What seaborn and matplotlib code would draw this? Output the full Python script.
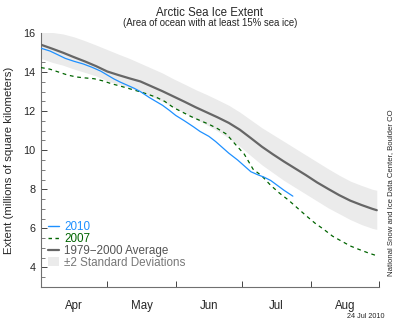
import numpy as np
import pandas as pd
import matplotlib
matplotlib.use("Agg")
import matplotlib.pyplot as plt
import seaborn as sns
from matplotlib.lines import Line2D
from matplotlib.patches import Patch
from matplotlib.ticker import MultipleLocator

# ---- data (day of year, extent in millions of km^2) ----
avg_days = [91, 96, 101, 106, 111, 116, 121, 126, 131, 136, 141, 146, 151, 156, 161, 166,
            171, 176, 181, 186, 191, 196, 201, 206, 211, 216, 221, 226, 231, 236, 241, 243]
avg_vals = [15.40, 15.20, 14.99, 14.76, 14.54, 14.30, 14.03, 13.85, 13.68, 13.52, 13.27, 13.02,
            12.75, 12.48, 12.20, 11.94, 11.68, 11.40, 11.05, 10.62, 10.18, 9.79, 9.42, 9.07,
            8.72, 8.35, 8.02, 7.70, 7.42, 7.20, 7.00, 6.93]
std_upper = [16.05, 16.03, 15.95, 15.80, 15.60, 15.38, 15.15, 14.92, 14.70, 14.45, 14.20, 13.95,
             13.65, 13.38, 13.10, 12.85, 12.58, 12.30, 11.95, 11.55, 11.15, 10.80, 10.45, 10.10,
             9.75, 9.40, 9.05, 8.72, 8.42, 8.20, 8.00, 7.95]
std_lower = [14.70, 14.50, 14.35, 14.15, 13.98, 13.80, 13.55, 13.38, 13.20, 13.00, 12.75, 12.50,
             12.20, 11.92, 11.60, 11.30, 10.98, 10.62, 10.20, 9.72, 9.25, 8.85, 8.45, 8.10,
             7.75, 7.40, 7.05, 6.75, 6.45, 6.20, 6.00, 5.95]

y2010_days = [91, 95, 98, 102, 106, 110, 114, 118, 121, 124, 127, 130, 133, 136, 140, 143, 146,
              149, 152, 156, 160, 163, 167, 170, 173, 176, 180, 183, 186, 189, 192, 195, 198,
              201, 205]
y2010_vals = [15.22, 15.08, 14.92, 14.70, 14.55, 14.42, 14.25, 14.05, 13.85, 13.65, 13.48, 13.33,
              13.18, 13.00, 12.70, 12.50, 12.30, 12.05, 11.78, 11.50, 11.20, 10.96, 10.71, 10.45,
              10.15, 9.85, 9.50, 9.20, 8.90, 8.75, 8.62, 8.45, 8.20, 7.95, 7.65]

y2007_days = [91, 95, 99, 103, 107, 111, 115, 119, 123, 127, 131, 135, 139, 143, 147, 151, 155,
              159, 163, 167, 171, 175, 179, 183, 187, 191, 195, 199, 203, 207, 211, 215, 219,
              223, 227, 231, 235, 239, 243]
y2007_vals = [14.23, 14.15, 14.00, 13.85, 13.75, 13.70, 13.66, 13.55, 13.40, 13.28, 13.15, 13.02,
              12.88, 12.72, 12.50, 12.18, 11.95, 11.72, 11.52, 11.33, 11.10, 10.82, 10.30, 9.80,
              9.03, 8.68, 8.20, 7.80, 7.45, 7.05, 6.65, 6.27, 5.95, 5.60, 5.35, 5.10, 4.92,
              4.75, 4.60]

month_starts = [91, 121, 152, 182, 213, 244]
month_mids = [106, 136.5, 167, 197.5, 228.5]
month_labels = ["Apr", "May", "Jun", "Jul", "Aug"]

legend_labels = ["2010", "2007", "1979\u22122000 Average", "\u00b12 Standard Deviations"]

# ---- style ----
sns.set_style("ticks")
plt.rcParams["font.family"] = ["Liberation Sans", "DejaVu Sans"]

BLUE = "#1e90ff"
GREEN = "#006400"
AVG = "#666666"
BAND = "#ebebeb"
SPINE = "#707070"

fig = plt.figure(figsize=(4.0, 3.24), dpi=100)
ax = fig.add_axes([41 / 400, 1 - 287 / 324, 338 / 400, 254 / 324])

ax.fill_between(avg_days, std_lower, std_upper, color=BAND, linewidth=0, zorder=1)

df_avg = pd.DataFrame({"day": avg_days, "extent": avg_vals})
df_2010 = pd.DataFrame({"day": y2010_days, "extent": y2010_vals})
df_2007 = pd.DataFrame({"day": y2007_days, "extent": y2007_vals})

sns.lineplot(data=df_avg, x="day", y="extent", color=AVG, linewidth=1.6, ax=ax, zorder=3)
sns.lineplot(data=df_2007, x="day", y="extent", color=GREEN, linewidth=0.9,
             linestyle=(0, (3, 3)), ax=ax, zorder=4)
sns.lineplot(data=df_2010, x="day", y="extent", color=BLUE, linewidth=0.9, ax=ax, zorder=5)

ax.set_xlim(91, 244)
ax.set_ylim(3, 16)

ax.set_xticks(month_starts)
ax.set_xticklabels([])
ax.set_xticks(month_mids, minor=True)
ax.set_xticklabels(month_labels, minor=True)
ax.tick_params(axis="x", which="major", direction="in", length=4, width=0.7, color="#444444")
ax.tick_params(axis="x", which="minor", length=0, pad=9.5, labelsize=8.3)

ax.set_yticks([4, 6, 8, 10, 12, 14, 16])
ax.yaxis.set_minor_locator(MultipleLocator(0.5))
ax.tick_params(axis="y", which="major", direction="in", length=4, width=0.7,
               color="#444444", labelsize=7.8, pad=4)
ax.tick_params(axis="y", which="minor", direction="in", length=3, width=0.6, color="#666666")

for s in ["top", "right"]:
    ax.spines[s].set_visible(False)
for s in ["left", "bottom"]:
    ax.spines[s].set_color(SPINE)
    ax.spines[s].set_linewidth(0.8)

ax.set_xlabel("")
ax.set_ylabel("Extent (millions of square kilometers)", fontsize=8.2, labelpad=7)

handles = [
    Line2D([], [], color=BLUE, linewidth=1.0),
    Line2D([], [], color=GREEN, linewidth=1.0, linestyle=(0, (2.5, 2.5))),
    Line2D([], [], color=AVG, linewidth=1.6),
    Patch(facecolor=BAND, edgecolor="none"),
]
leg = ax.legend(handles, legend_labels, loc="lower left", bbox_to_anchor=(0.02, 0.071),
                frameon=False, fontsize=8.4, handlelength=1.0, handleheight=0.8,
                handletextpad=0.4, labelspacing=0.0, borderpad=0, borderaxespad=0,
                labelcolor=[BLUE, GREEN, "#555555", "#777777"])

fig.text(0.525, 1 - 13 / 324, "Arctic Sea Ice Extent", ha="center", va="center", fontsize=8.3)
fig.text(0.525, 1 - 23 / 324, "(Area of ocean with at least 15% sea ice)", ha="center",
         va="center", fontsize=6.9)
fig.text(391 / 400, 1 - 193 / 324, "National Snow and Ice Data Center, Boulder CO",
         rotation=90, ha="center", va="center", fontsize=5.6)
fig.text(366 / 400, 1 - 317 / 324, "24 Jul 2010", ha="center", va="center", fontsize=5.2)

fig.savefig("out.png", dpi=100)
